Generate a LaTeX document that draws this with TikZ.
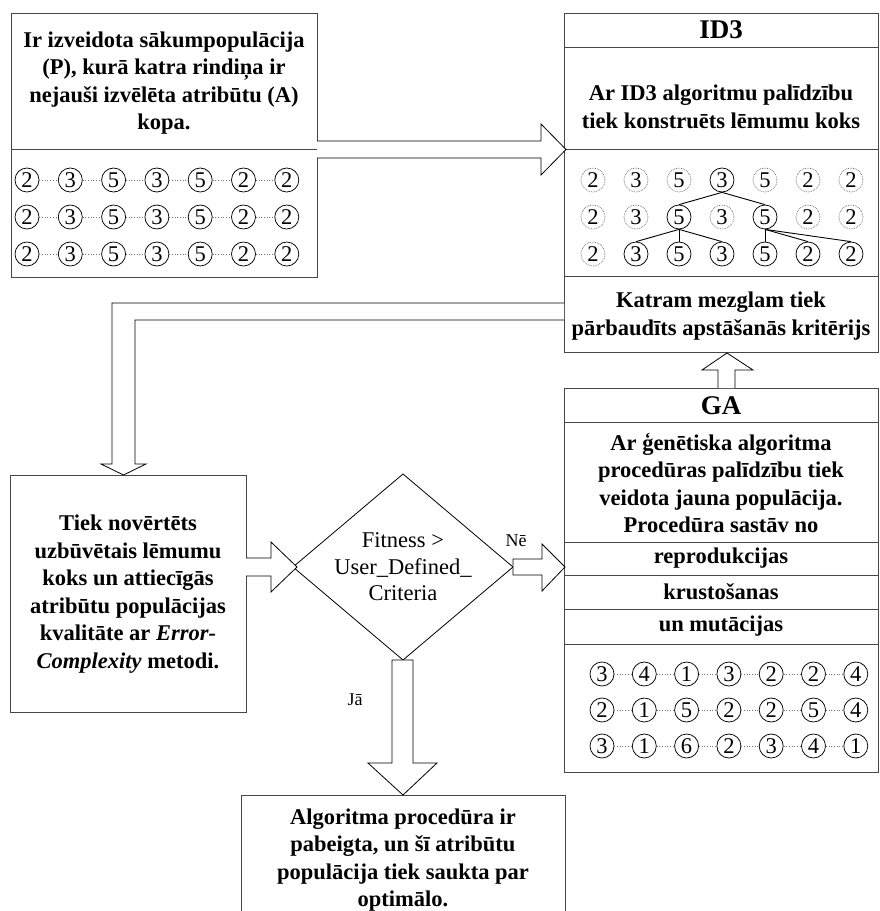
\documentclass[tikz,border=0pt]{standalone}
\usepackage{fontspec}
\setmainfont{Liberation Serif}
\begin{document}
\begin{tikzpicture}[x=1pt,y=-1pt,
  boxline/.style={draw=black!72, line width=0.9pt},
  bt/.style={font=\fontsize{22.5}{27.5}\selectfont\bfseries, align=center, inner sep=0pt},
  tt/.style={font=\fontsize{27}{30}\selectfont\bfseries, inner sep=0pt},
  dt/.style={font=\fontsize{22.5}{26.5}\selectfont, align=center, inner sep=0pt},
  lab/.style={font=\fontsize{18}{18}\selectfont, inner sep=0pt},
  blockarrow/.style={draw=black, line width=0.8pt, fill=white, line join=miter},
  circ/.style={circle, draw=black, line width=0.75pt, minimum size=24pt, inner sep=0pt, font=\fontsize{22.5}{22.5}\selectfont},
  dcirc/.style={circ, draw=black!55, densely dotted},
  link/.style={draw=black!55, dotted, line width=0.7pt},
  treeedge/.style={draw=black, line width=0.9pt}
]
\useasboundingbox (0,0) rectangle (879,911);

% ---------- top-left box ----------
\draw[boxline] (11,13) rectangle (317,277);
\draw[boxline] (11,149) -- (317,149);
\node[bt] (ptext) at (164,83) {Ir izveidota sākumpopulācija\\(P), kurā katra rindiņa ir\\nejauši izvēlēta atribūtu (A)\\kopa.};
\foreach \r/\yy in {1/180,2/217,3/254}{
  \foreach \v [count=\c] in {2,3,5,3,5,2,2}{
    \node[circ] (p\r\c) at ({27+43.3*(\c-1)},\yy) {\v};
  }
  \foreach \c [evaluate=\c as \n using int(\c+1)] in {1,...,6}{
    \draw[link] (p\r\c) -- (p\r\n);
  }
}

% ---------- top-right box (ID3) ----------
\draw[boxline] (564,13) rectangle (878,352);
\draw[boxline] (564,47) -- (878,47);
\draw[boxline] (564,149) -- (878,149);
\draw[boxline] (564,276) -- (878,276);
\node[tt] (id3title) at (721,30) {ID3};
\node[bt] (id3text) at (721,107) {Ar ID3 algoritmu palīdzību\\tiek konstruēts lēmumu koks};
\node[bt] (stoptext) at (721,316) {Katram mezglam tiek\\pārbaudīts apstāšanās kritērijs};
% tree grid
\foreach \v [count=\c] in {2,3,5,3,5,2,2}{
  \ifnum\c=4
    \node[circ] (t1\c) at ({593+43*(\c-1)},180) {\v};
  \else
    \node[dcirc] (t1\c) at ({593+43*(\c-1)},180) {\v};
  \fi
}
\foreach \v [count=\c] in {2,3,5,3,5,2,2}{
  \ifnum\c=3
    \node[circ] (t2\c) at ({593+43*(\c-1)},217) {\v};
  \else\ifnum\c=5
    \node[circ] (t2\c) at ({593+43*(\c-1)},217) {\v};
  \else
    \node[dcirc] (t2\c) at ({593+43*(\c-1)},217) {\v};
  \fi\fi
}
\foreach \v [count=\c] in {2,3,5,3,5,2,2}{
  \ifnum\c=1
    \node[dcirc] (t3\c) at ({593+43*(\c-1)},254) {\v};
  \else
    \node[circ] (t3\c) at ({593+43*(\c-1)},254) {\v};
  \fi
}
\draw[treeedge] (t14.south) -- (t23.north);
\draw[treeedge] (t14.south) -- (t25.north);
\draw[treeedge] (t23.south) -- (t32.north);
\draw[treeedge] (t23.south) -- (t33.north);
\draw[treeedge] (t23.south) -- (t34.north);
\draw[treeedge] (t25.south) -- (t35.north);
\draw[treeedge] (t25.south) -- (t36.north);
\draw[treeedge] (t25.south) -- (t37.north);

% ---------- GA box ----------
\draw[boxline] (564,388) rectangle (878,772);
\draw[boxline] (564,422) -- (878,422);
\draw[boxline] (564,542) -- (878,542);
\draw[boxline] (564,575) -- (878,575);
\draw[boxline] (564,609) -- (878,609);
\draw[boxline] (564,644) -- (878,644);
\node[tt] (gatitle) at (721,406) {GA};
\node[bt] (gatext) at (721,483) {Ar ģenētiska algoritma\\procedūras palīdzību tiek\\veidota jauna populācija.\\Procedūra sastāv no};
\node[bt] (repro) at (721,558.5) {reprodukcijas};
\node[bt] (cross) at (721,592) {krustošanas};
\node[bt] (mut) at (721,626.5) {un mutācijas};
\foreach \r/\yy/\vals in {1/674/{3,4,1,3,2,2,4},2/710/{2,1,5,2,2,5,4},3/746/{3,1,6,2,3,4,1}}{
  \foreach \v [count=\c] in \vals{
    \node[circ] (g\r\c) at ({602+42.3*(\c-1)},\yy) {\v};
  }
  \foreach \c [evaluate=\c as \n using int(\c+1)] in {1,...,6}{
    \draw[link] (g\r\c) -- (g\r\n);
  }
}

% ---------- middle-left box ----------
\draw[boxline] (10,475) rectangle (246,712);
\node[bt] (evaltext) at (128,594) {Tiek novērtēts\\uzbūvētais lēmumu\\koks un attiecīgās\\atribūtu populācijas\\kvalitāte ar \textit{Error-}\\\textit{Complexity} metodi.};

% ---------- diamond ----------
\draw[draw=black, line width=0.8pt] (403,474) -- (513,567) -- (403,660) -- (293,567) -- cycle;
\node[dt] (crit) at (403,567) {Fitness >\\User\_Defined\_\\Criteria};

% ---------- bottom box ----------
\draw[boxline] (241,915) -- (241,795) -- (565,795) -- (565,915);
\node[bt] (endtext) at (403,860) {Algoritma procedūra ir\\pabeigta, un šī atribūtu\\populācija tiek saukta par\\optimālo.};

% ---------- block arrows ----------
% P -> ID3
\draw[blockarrow] (317,141) -- (541,141) -- (541,124) -- (566,149.5) -- (541,175) -- (541,158) -- (317,158);
% ID3 (Katram) -> evaluation box
\draw[blockarrow] (564,303) -- (112,303) -- (112,464) -- (101,464) -- (123.5,475) -- (146,464) -- (135,464) -- (135,320) -- (564,320);
% evaluation -> diamond
\draw[blockarrow] (246,558) -- (271,558) -- (271,542) -- (297,567) -- (271,592) -- (271,576) -- (246,576);
% diamond -> GA (Nē)
\draw[blockarrow] (513,559) -- (542,559) -- (542,544) -- (565,567) -- (542,591) -- (542,575) -- (513,575) -- cycle;
% GA -> Katram
\draw[blockarrow] (718,388) -- (718,370) -- (702,370) -- (727,353) -- (753,370) -- (735,370) -- (735,388);
% diamond -> end (Jā)
\draw[blockarrow] (392,660) -- (392,763) -- (368,763) -- (403,795) -- (437,763) -- (413,763) -- (413,660) -- cycle;

\node[lab] (ne) at (516,541) {Nē};
\node[lab] (ja) at (355,700) {Jā};
\end{tikzpicture}
\end{document}
